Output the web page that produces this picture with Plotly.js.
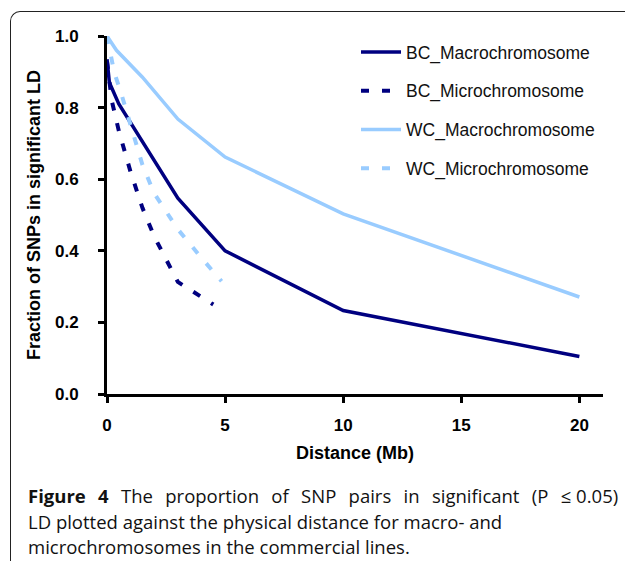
<!DOCTYPE html>
<html>
<head>
<meta charset="utf-8">
<script src="https://cdn.plot.ly/plotly-3.0.1.min.js"></script>
<style>
  html, body { margin: 0; padding: 0; background: #fff; }
  #wrap { position: relative; width: 625px; height: 564px; overflow: hidden; }
  #chart { position: absolute; left: 0; top: 0; width: 625px; height: 564px; }
  #frame { position: absolute; left: 10px; top: 11px; width: 700px; height: 549px;
           border-top: 1px solid #222; border-left: 1px solid #222;
           border-top-left-radius: 10px; pointer-events: none; }
</style>
</head>
<body>
<div id="wrap">
  <div id="chart"></div>
  <div id="frame"></div>
</div>
<script>
// ---- data ----
const seriesNames = ["BC_Macrochromosome", "BC_Microchromosome", "WC_Macrochromosome", "WC_Microchromosome"];

const bcMacroX = [0, 0.1, 0.5, 3, 5, 10, 20];
const bcMacroY = [0.935, 0.87, 0.81, 0.547, 0.40, 0.233, 0.105];

const bcMicroX = [0, 0.2, 0.5, 1, 1.5, 2, 3, 4.5];
const bcMicroY = [0.93, 0.82, 0.735, 0.62, 0.52, 0.44, 0.313, 0.25];

const wcMacroX = [0, 0.4, 1.5, 3, 5, 10, 20];
const wcMacroY = [1.0, 0.96, 0.885, 0.768, 0.662, 0.503, 0.271];

const wcMicroX = [0, 0.3, 0.6, 1, 1.5, 2, 3, 4, 4.85];
const wcMicroY = [1.0, 0.90, 0.84, 0.75, 0.64, 0.56, 0.46, 0.38, 0.315];

const xTicks = [0, 5, 10, 15, 20];
const yTicks = [0, 0.2, 0.4, 0.6, 0.8, 1.0];

// line 1 is justified to the full width in the reference: wider word gaps
const wide = "\u2002\u2006";
const captionLines = [
  ["<b>Figure", "4</b>", "The", "proportion", "of", "SNP", "pairs", "in", "significant", "(P"].join(wide)
    + wide + "\u2264 0.05)",
  "LD plotted against the physical distance for macro- and",
  "microchromosomes in the commercial lines."
];

const darkBlue = "#000080";
const lightBlue = "#99CCFF";

function tr(x, y, name, color, dash, idx) {
  return {
    type: "scatter", mode: "lines", x: x, y: y, name: name,
    legendgroup: "g" + idx, cliponaxis: false,
    line: { color: color, width: dash ? 4 : 3.5, dash: dash || "solid" },
    hoverinfo: "skip"
  };
}

const traces = [
  tr(bcMacroX, bcMacroY, seriesNames[0], darkBlue, null, 0),
  tr(bcMicroX, bcMicroY, seriesNames[1], darkBlue, "8px,13px", 1),
  tr(wcMacroX, wcMacroY, seriesNames[2], lightBlue, null, 2),
  tr(wcMicroX, wcMicroY, seriesNames[3], lightBlue, "8px,13px", 3)
];

const L = 107, R = 22, T = 36, B = 170, W = 625, H = 564;
const pw = W - L - R, ph = H - T - B;
function px2x(p) { return (p - L) / pw; }
function py2y(p) { return (H - B - p) / ph; }

const capY = [496, 521, 546];
const annotations = captionLines.map((t, i) => ({
  text: t, xref: "paper", yref: "paper", x: px2x(26), y: py2y(capY[i]),
  xanchor: "left", yanchor: "middle", showarrow: false, align: "left",
  font: { family: "Open Sans, Noto Sans, sans-serif", size: 18.5, color: "#111" }
}));

const axisFont = { family: "Liberation Sans, Arial, sans-serif", size: 17, color: "#000" };
const titleFont = { family: "Liberation Sans, Arial, sans-serif", size: 18, color: "#000" };

const layout = {
  width: W, height: H,
  margin: { l: L, r: R, t: T, b: B, pad: 0 },
  paper_bgcolor: "rgba(0,0,0,0)", plot_bgcolor: "rgba(0,0,0,0)",
  showlegend: true,
  legend: {
    x: px2x(356), y: py2y(34), xanchor: "left", yanchor: "top",
    font: { family: "Liberation Sans, Arial, sans-serif", size: 17.5, color: "#111" },
    tracegroupgap: 13, itemwidth: 40, bgcolor: "rgba(0,0,0,0)"
  },
  xaxis: {
    range: [0, 21], tickvals: xTicks, ticktext: xTicks.map(String),
    showgrid: false, zeroline: false, showline: true, linecolor: "#000", linewidth: 3,
    ticks: "outside", ticklen: 6, tickwidth: 3, tickcolor: "#000",
    tickfont: Object.assign({}, axisFont, { weight: "bold" }),
    ticklabelstandoff: 8,
    title: { text: "<b>Distance (Mb)</b>", font: titleFont, standoff: 12 }
  },
  yaxis: {
    range: [0, 1], tickvals: yTicks, ticktext: yTicks.map(v => v.toFixed(1)),
    showgrid: false, zeroline: false, showline: true, linecolor: "#000", linewidth: 3,
    ticks: "outside", ticklen: 6, tickwidth: 3, tickcolor: "#000",
    tickfont: Object.assign({}, axisFont, { weight: "bold" }),
    ticklabelstandoff: 16,
    title: { text: "<b>Fraction of SNPs in significant LD</b>", font: titleFont, standoff: 10 }
  },
  annotations: annotations
};

Plotly.newPlot("chart", traces, layout, { staticPlot: true, displayModeBar: false });
</script>
</body>
</html>
